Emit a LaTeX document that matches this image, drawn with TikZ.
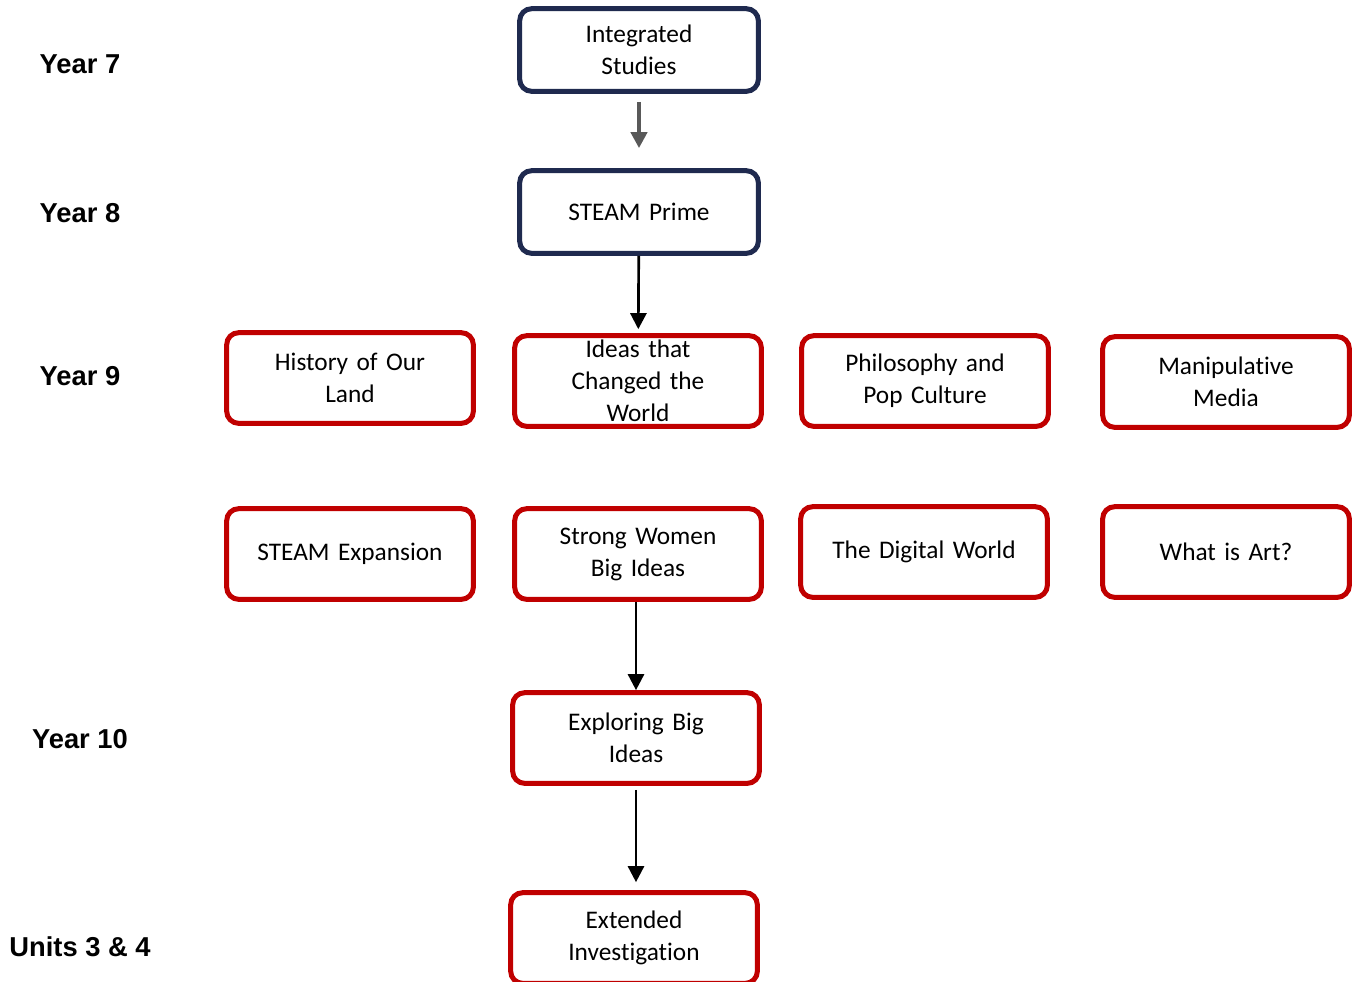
\documentclass[tikz,border=0pt]{standalone}
\usepackage{fontspec}
\setmainfont{Carlito}[Ligatures=NoCommon, RawFeature={-liga,-clig,-calt,-dlig}]
\newfontfamily\yearfont{Liberation Sans}
\usetikzlibrary{arrows.meta}
\definecolor{navyline}{HTML}{1F2A4F}
\definecolor{redline}{HTML}{C00000}
\definecolor{greyarrow}{HTML}{595959}

\begin{document}
\begin{tikzpicture}[x=0.75pt, y=-0.75pt,
    course/.style ={rectangle, rounded corners=9pt, line width=3.75pt, fill=white,
      align=center, inner sep=0pt, font=\fontsize{19}{24}\selectfont},
    navybox/.style ={course, draw=navyline, text width=179pt, minimum height=62pt},
    redbox/.style ={course, draw=redline, text width=185pt, minimum height=68pt},
    yearlabel/.style ={font=\yearfont\bfseries\fontsize{20.5}{24}\selectfont},
    flow/.style ={line width=2pt, -{Triangle[length=12pt, width=12pt]}}]
   \useasboundingbox (0,0) rectangle (1361,982);

   \node[yearlabel] (Y7) at (80,64)  {Year 7};
   \node[yearlabel] (Y8) at (80,213)  {Year 8};
   \node[yearlabel] (Y9) at (80,376)  {Year 9};
   \node[yearlabel] (Y10) at (80,739)  {Year 10};
   \node[yearlabel] (U34) at (80,947)  {Units 3 \& 4};

   \node[navybox] (IS) at (639,50)  {Integrated\\Studies};
   \node[navybox] (SP) at (639,212)  {STEAM Prime};

   \node[redbox] (HL) at (350,378)  {History of Our\\Land};
   \node[redbox] (IC) at (638,381)  {Ideas that\\Changed the\\World};
   \node[redbox] (PP) at (925,381)  {Philosophy and\\Pop Culture};
   \node[redbox] (MM) at (1226,382)  {Manipulative\\Media};

   \node[redbox] (SE) at (350,554)  {STEAM Expansion};
   \node[redbox] (SW) at (638,554)  {Strong Women\\Big Ideas};
   \node[redbox] (DW) at (924,552)  {The Digital World};
   \node[redbox] (WA) at (1226,552)  {What is Art?};

   \node[redbox] (EB) at (636,738)  {Exploring Big\\Ideas};
   \node[redbox] (EI) at (634,938)  {Extended\\Investigation};

   \draw[line width=3pt, draw=greyarrow, -{Triangle[length=12pt, width=12pt]},
     shorten <=6pt, shorten >=15pt] (IS) to (SP);
   \draw[flow, shorten >=3pt] (SP) to (IC);
   \draw[flow] (SW.south -| EB) to (EB);
   \draw[flow, shorten <=3pt, shorten >=6pt] (EB) to (EB |- EI.north);
 \end{tikzpicture}
\end{document}
